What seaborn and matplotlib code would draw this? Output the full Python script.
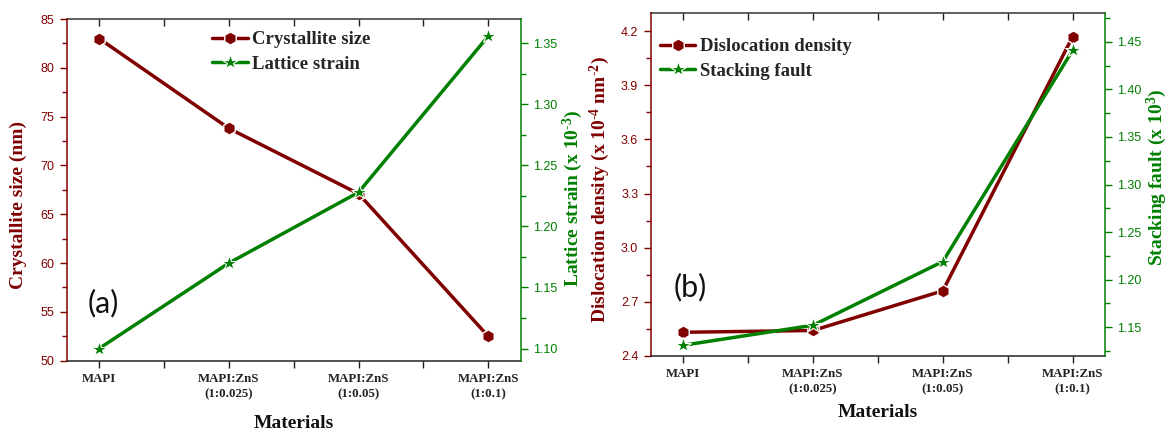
import numpy as np
import matplotlib
matplotlib.use("Agg")
import matplotlib.pyplot as plt
from matplotlib.ticker import MultipleLocator, FixedLocator
import seaborn as sns

# ---- data -------------------------------------------------------------
materials = ["MAPI", "MAPI:ZnS\n(1:0.025)", "MAPI:ZnS\n(1:0.05)", "MAPI:ZnS\n(1:0.1)"]
crystallite_size = [83.0, 73.8, 67.1, 52.5]          # nm
lattice_strain = [1.100, 1.170, 1.228, 1.356]         # x 10^-3
dislocation_density = [2.53, 2.54, 2.76, 4.17]       # x 10^-4 nm^-2
stacking_fault = [1.131, 1.152, 1.219, 1.441]         # x 10^3

# ---- style ------------------------------------------------------------
sns.set_style("ticks")
RED = "#800000"
GREEN = "#008000"
SERIF = "Liberation Serif"
SANS = "Liberation Sans"
plt.rcParams["font.family"] = [SANS, "DejaVu Sans"]
plt.rcParams["mathtext.fontset"] = "custom"
plt.rcParams["mathtext.rm"] = "Liberation Serif:bold"
plt.rcParams["mathtext.it"] = "Liberation Serif:bold"
plt.rcParams["mathtext.bf"] = "Liberation Serif:bold"

x = np.arange(len(materials))
hex_kw = dict(lw=2.5, marker="h", markersize=9.5, markeredgecolor="white", markeredgewidth=1.0)
star_kw = dict(lw=2.5, marker="*", markersize=11.5, markeredgecolor="white", markeredgewidth=0.8)

fig = plt.figure(figsize=(11.68, 4.32), dpi=100)


def style_panel(ax, axr, left_lim, left_major, left_minor, right_lim, right_major, right_minor,
                left_fmt, right_fmt):
    ax.set_xlim(-0.25, 3.25)
    ax.set_ylim(*left_lim)
    axr.set_ylim(*right_lim)

    ax.xaxis.set_major_locator(FixedLocator(x))
    ax.xaxis.set_minor_locator(FixedLocator(x[:-1] + 0.5))
    ax.set_xticklabels(materials, fontfamily=SERIF, fontweight="bold", fontsize=9.3,
                       linespacing=1.35, color="#222222")
    ax.tick_params(axis="x", which="both", direction="out", length=5, width=1,
                   color="#222222", pad=4)

    top = ax.secondary_xaxis("top")
    top.xaxis.set_major_locator(FixedLocator(x))
    top.xaxis.set_minor_locator(FixedLocator(x[:-1] + 0.5))
    top.tick_params(axis="x", which="both", direction="in", length=5, width=1,
                    color="#222222", labeltop=False)
    top.spines["top"].set_color("#333333")
    top.spines["top"].set_linewidth(1.1)

    ax.yaxis.set_major_locator(MultipleLocator(left_major))
    ax.yaxis.set_minor_locator(MultipleLocator(left_minor))
    ax.yaxis.set_major_formatter(left_fmt)
    ax.tick_params(axis="y", which="major", direction="out", length=5, width=1,
                   color=RED, labelcolor=RED, labelsize=9, pad=4)
    ax.tick_params(axis="y", which="minor", direction="out", length=3.5, width=1, color=RED)

    axr.yaxis.set_major_locator(MultipleLocator(right_major))
    axr.yaxis.set_minor_locator(MultipleLocator(right_minor))
    axr.yaxis.set_major_formatter(right_fmt)
    axr.tick_params(axis="y", which="major", direction="out", length=5, width=1,
                    color=GREEN, labelcolor=GREEN, labelsize=9, pad=4)
    axr.tick_params(axis="y", which="minor", direction="out", length=3.5, width=1, color=GREEN)

    for lab in ax.get_yticklabels() + axr.get_yticklabels():
        lab.set_fontfamily(SANS)

    ax.spines["left"].set_color(RED)
    ax.spines["left"].set_linewidth(1.1)
    ax.spines["right"].set_visible(False)
    ax.spines["top"].set_visible(False)
    ax.spines["bottom"].set_color("#222222")
    ax.spines["bottom"].set_linewidth(1.1)
    axr.spines["right"].set_color(GREEN)
    axr.spines["right"].set_linewidth(1.1)
    for s in ("left", "top", "bottom"):
        axr.spines[s].set_visible(False)


label_font = dict(fontfamily=SERIF, fontweight="bold", fontsize=14)
legend_kw = dict(loc="upper left", frameon=False, borderpad=0, borderaxespad=0,
                 handlelength=1.9, handletextpad=0.25, labelspacing=0.4,
                 prop=dict(family=SERIF, weight="bold", size=13.5))
SUP = r"$^{\text{-}%s}$"

# ---- panel (a) --------------------------------------------------------
ax1 = fig.add_axes([0.0571, 0.165, 0.3887, 0.791])
ax1r = ax1.twinx()
sns.lineplot(x=x, y=crystallite_size, ax=ax1, color=RED,
             label="Crystallite size", legend=False, **hex_kw)
sns.lineplot(x=x, y=lattice_strain, ax=ax1r, color=GREEN,
             label="Lattice strain", legend=False, **star_kw)
style_panel(ax1, ax1r, (50, 85), 5, 2.5, (1.09, 1.37), 0.05, 0.025,
            "{x:.0f}", "{x:.2f}")
ax1.set_xlabel("Materials", color="#111111", va="center", **label_font)
ax1.set_ylabel("Crystallite size (nm)", color=RED, va="center", ha="center", **label_font)
ax1r.set_ylabel("Lattice strain (x 10" + SUP % "3" + ")", color=GREEN, va="center",
                ha="center", rotation=90, **label_font)
ax1.yaxis.set_label_coords(-0.107, 0.456)
ax1r.yaxis.set_label_coords(1.115, 0.476)
ax1.xaxis.set_label_coords(0.5, -0.185)
ax1.text(0.08, 0.17, "(a)", transform=ax1.transAxes, fontsize=22, family="Lato",
         ha="center", va="center", color="#111111")
h1, l1 = ax1.get_legend_handles_labels()
h2, l2 = ax1r.get_legend_handles_labels()
ax1r.legend(h1 + h2, l1 + l2, bbox_to_anchor=(0.32, 0.965), **legend_kw)

# ---- panel (b) --------------------------------------------------------
ax2 = fig.add_axes([0.5571, 0.1766, 0.389, 0.7926])
ax2r = ax2.twinx()
sns.lineplot(x=x, y=dislocation_density, ax=ax2, color=RED,
             label="Dislocation density", legend=False, **hex_kw)
sns.lineplot(x=x, y=stacking_fault, ax=ax2r, color=GREEN,
             label="Stacking fault", legend=False, **star_kw)
style_panel(ax2, ax2r, (2.4, 4.3), 0.3, 0.15, (1.12, 1.48), 0.05, 0.025,
            "{x:.1f}", "{x:.2f}")
ax2.set_xlabel("Materials", color="#111111", va="center", **label_font)
ax2.set_ylabel("Dislocation density (x 10" + SUP % "4" + " nm" + SUP % "2" + ")",
               color=RED, va="center", ha="center", **label_font)
ax2r.set_ylabel("Stacking fault (x 10$^{3}$)", color=GREEN, va="center", ha="center",
                rotation=90, **label_font)
ax2.yaxis.set_label_coords(-0.1116, 0.484)
ax2r.yaxis.set_label_coords(1.1144, 0.522)
ax2.xaxis.set_label_coords(0.5, -0.167)
ax2.text(0.087, 0.2, "(b)", transform=ax2.transAxes, fontsize=22, family="Lato",
         ha="center", va="center", color="#111111")
h1, l1 = ax2.get_legend_handles_labels()
h2, l2 = ax2r.get_legend_handles_labels()
ax2r.legend(h1 + h2, l1 + l2, bbox_to_anchor=(0.02, 0.928), **legend_kw)

fig.savefig("out.png", dpi=100)
